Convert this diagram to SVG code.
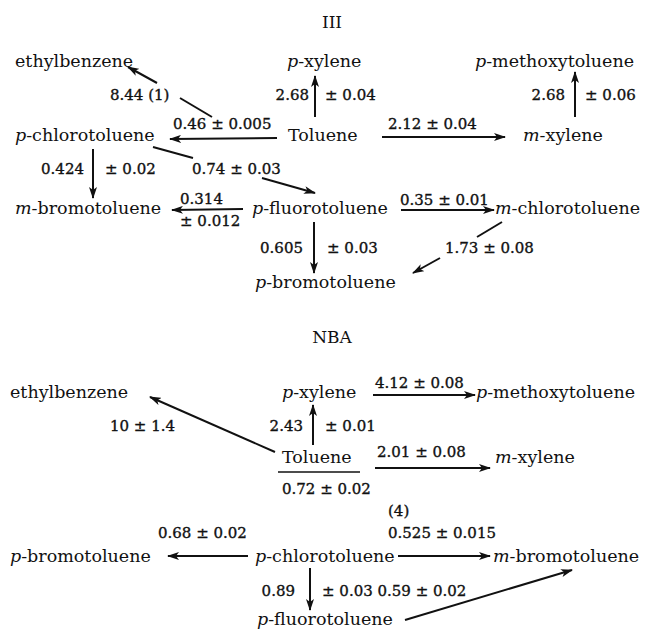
<svg xmlns="http://www.w3.org/2000/svg" width="653" height="634" viewBox="0 0 653 634">
<style>
.n{font-family:"DejaVu Serif","Liberation Serif",serif;font-size:17.5px;fill:#111}
.t{font-family:"DejaVu Serif","Liberation Serif",serif;font-size:17px;fill:#111}
.v{font-family:"DejaVu Serif","Liberation Serif",serif;font-size:15px;fill:#111;stroke:#111;stroke-width:0.35px}
.i{font-style:italic}
.c line{stroke:#111;stroke-width:2}
.a{marker-end:url(#ah)}
</style>
<defs>
<marker id="ah" viewBox="0 0 12 8" refX="11" refY="4" markerWidth="12" markerHeight="8" markerUnits="userSpaceOnUse" orient="auto">
<path d="M0,0 L12,4 L0,8 L3,4 Z" fill="#111"/>
</marker>
</defs>
<rect width="653" height="634" fill="#fff"/>

<text class="t" x="332" y="28" text-anchor="middle">III</text>
<g id="III_ethylbenzene"><text class="n" x="15" y="67">ethylbenzene</text></g>
<g id="III_pxylene"><text class="n" x="287" y="67"><tspan class="i">p</tspan>-xylene</text></g>
<g id="III_pmethoxytoluene"><text class="n" x="475" y="67"><tspan class="i">p</tspan>-methoxytoluene</text></g>
<g id="III_pchlorotoluene"><text class="n" x="15" y="141"><tspan class="i">p</tspan>-chlorotoluene</text></g>
<g id="III_toluene"><text class="n" x="288" y="141">Toluene</text></g>
<g id="III_mxylene"><text class="n" x="523" y="141"><tspan class="i">m</tspan>-xylene</text></g>
<g id="III_mbromotoluene"><text class="n" x="15" y="214"><tspan class="i">m</tspan>-bromotoluene</text></g>
<g id="III_pfluorotoluene"><text class="n" x="252" y="214"><tspan class="i">p</tspan>-fluorotoluene</text></g>
<g id="III_mchlorotoluene"><text class="n" x="495" y="214"><tspan class="i">m</tspan>-chlorotoluene</text></g>
<g id="III_pbromotoluene"><text class="n" x="255" y="288"><tspan class="i">p</tspan>-bromotoluene</text></g>

<g id="III_labels">
<text class="v" x="110" y="100">8.44 (1)</text>
<text class="v" x="309" y="100" text-anchor="end">2.68</text>
<text class="v" x="325" y="100">± 0.04</text>
<text class="v" x="565" y="100" text-anchor="end">2.68</text>
<text class="v" x="585" y="100">± 0.06</text>
<text class="v" x="173" y="129">0.46 ± 0.005</text>
<text class="v" x="388" y="129">2.12 ± 0.04</text>
<text class="v" x="84" y="174" text-anchor="end">0.424</text>
<text class="v" x="105" y="174">± 0.02</text>
<text class="v" x="192" y="174">0.74 ± 0.03</text>
<text class="v" x="180" y="204">0.314</text>
<text class="v" x="180" y="226">± 0.012</text>
<text class="v" x="400" y="205">0.35 ± 0.01</text>
<text class="v" x="303" y="253" text-anchor="end">0.605</text>
<text class="v" x="327" y="253">± 0.03</text>
<text class="v" x="445" y="253">1.73 ± 0.08</text>
</g>

<text class="t" x="332" y="343" text-anchor="middle">NBA</text>
<g id="NBA_ethylbenzene"><text class="n" x="10" y="398">ethylbenzene</text></g>
<g id="NBA_pxylene"><text class="n" x="282" y="398"><tspan class="i">p</tspan>-xylene</text></g>
<g id="NBA_pmethoxytoluene"><text class="n" x="476" y="398"><tspan class="i">p</tspan>-methoxytoluene</text></g>
<g id="NBA_toluene"><text class="n" x="282" y="463">Toluene</text><line x1="278" y1="472" x2="360" y2="472" stroke="#111" stroke-width="1.5"/></g>
<g id="NBA_mxylene"><text class="n" x="495" y="463"><tspan class="i">m</tspan>-xylene</text></g>
<g id="NBA_pbromotoluene"><text class="n" x="10" y="562"><tspan class="i">p</tspan>-bromotoluene</text></g>
<g id="NBA_pchlorotoluene"><text class="n" x="255" y="562"><tspan class="i">p</tspan>-chlorotoluene</text></g>
<g id="NBA_mbromotoluene"><text class="n" x="493" y="562"><tspan class="i">m</tspan>-bromotoluene</text></g>
<g id="NBA_pfluorotoluene"><text class="n" x="257" y="625"><tspan class="i">p</tspan>-fluorotoluene</text></g>

<g id="NBA_labels">
<text class="v" x="375" y="388">4.12 ± 0.08</text>
<text class="v" x="110" y="431">10 ± 1.4</text>
<text class="v" x="303" y="431" text-anchor="end">2.43</text>
<text class="v" x="325" y="431">± 0.01</text>
<text class="v" x="377" y="457">2.01 ± 0.08</text>
<text class="v" x="282" y="494">0.72 ± 0.02</text>
<text class="v" x="388" y="516">(4)</text>
<text class="v" x="158" y="538">0.68 ± 0.02</text>
<text class="v" x="388" y="538">0.525 ± 0.015</text>
<text class="v" x="295" y="596" text-anchor="end">0.89</text>
<text class="v" x="322" y="596">± 0.03 0.59 ± 0.02</text>
</g>

<g id="connectors" class="c">
<line class="a" x1="315" y1="117" x2="315" y2="76"/>
<line class="a" x1="575" y1="117" x2="575" y2="72"/>
<line x1="212" y1="117" x2="180" y2="98"/>
<line class="a" x1="157" y1="83" x2="128" y2="67"/>
<line class="a" x1="277" y1="138" x2="170" y2="139"/>
<line class="a" x1="382" y1="137" x2="505" y2="137"/>
<line class="a" x1="93" y1="149" x2="93" y2="198"/>
<line x1="153" y1="147" x2="193" y2="158"/>
<line class="a" x1="262" y1="178" x2="315" y2="193"/>
<line class="a" x1="243" y1="209" x2="172" y2="210"/>
<line class="a" x1="401" y1="210" x2="494" y2="210"/>
<line class="a" x1="314" y1="222" x2="314" y2="273"/>
<line x1="502" y1="222" x2="477" y2="237"/>
<line class="a" x1="440" y1="258" x2="413" y2="273"/>

<line class="a" x1="373" y1="395" x2="475" y2="395"/>
<line class="a" x1="275" y1="452" x2="150" y2="397"/>
<line class="a" x1="313" y1="445" x2="313" y2="405"/>
<line class="a" x1="375" y1="468" x2="490" y2="468"/>
<line class="a" x1="248" y1="556" x2="168" y2="556"/>
<line class="a" x1="398" y1="556" x2="490" y2="556"/>
<line class="a" x1="310" y1="568" x2="310" y2="610"/>
<line class="a" x1="405" y1="620" x2="572" y2="570"/>
</g>
</svg>
